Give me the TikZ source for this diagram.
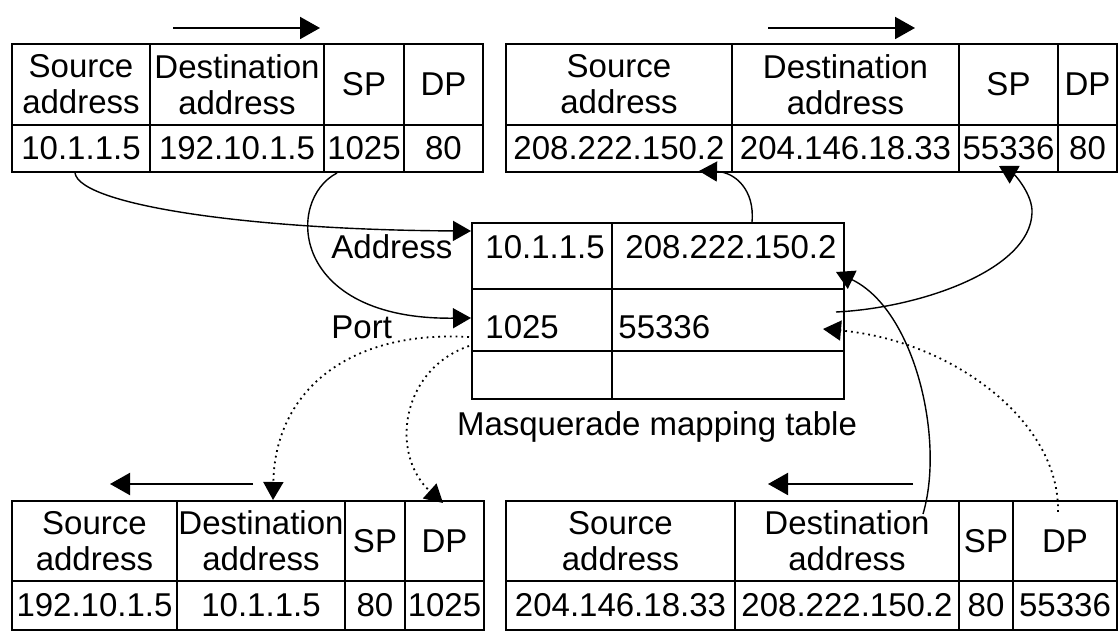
\documentclass[tikz,border=0pt]{standalone}
\usepackage{fontspec}
\setmainfont{Liberation Sans}
\usetikzlibrary{arrows.meta}

\begin{document}
\begin{tikzpicture}[x=0.5pt, y=-0.5pt,
    font=\fontsize{16.5}{18}\selectfont,
    celda/.style={draw, line width=1pt, inner sep=0pt, align=center},
    texto/.style={inner sep=0pt, anchor=west},
    flecha/.style={line width=1pt, -{Triangle[length=10pt, width=11pt]}},
    enlace/.style={line width=0.7pt, -{Triangle[length=9pt, width=10pt]}},
    punteado/.style={line width=0.9pt, dotted, -{Triangle[length=9pt, width=10pt]}}]
    \useasboundingbox (0,0) rectangle (1120,635);

    % Tabla superior izquierda
    \node[celda, minimum width=69pt, minimum height=40.5pt] (tl-sa) at (81,84.5) {Source\\address};
    \node[celda, minimum width=87pt, minimum height=40.5pt] (tl-da) at (237,84.5) {Destination\\address};
    \node[celda, minimum width=40pt, minimum height=40.5pt] (tl-sp) at (364,84.5) {SP};
    \node[celda, minimum width=39.5pt, minimum height=40.5pt] (tl-dp) at (443.5,84.5) {DP};
    \node[celda, minimum width=69pt, minimum height=23.5pt] (tl-sv) at (81,148.5) {10.1.1.5};
    \node[celda, minimum width=87pt, minimum height=23.5pt] (tl-dv) at (237,148.5) {192.10.1.5};
    \node[celda, minimum width=40pt, minimum height=23.5pt] (tl-spv) at (364,148.5) {1025};
    \node[celda, minimum width=39.5pt, minimum height=23.5pt] (tl-dpv) at (443.5,148.5) {80};
    \draw[flecha] (173,28) -- (320,28);

    % Tabla superior derecha
    \node[celda, minimum width=113pt, minimum height=40.5pt] (tr-sa) at (619,84.5) {Source\\address};
    \node[celda, minimum width=113.5pt, minimum height=40.5pt] (tr-da) at (845.5,84.5) {Destination\\address};
    \node[celda, minimum width=49.5pt, minimum height=40.5pt] (tr-sp) at (1008.5,84.5) {SP};
    \node[celda, minimum width=29.5pt, minimum height=40.5pt] (tr-dp) at (1087.5,84.5) {DP};
    \node[celda, minimum width=113pt, minimum height=23.5pt] (tr-sv) at (619,148.5) {208.222.150.2};
    \node[celda, minimum width=113.5pt, minimum height=23.5pt] (tr-dv) at (845.5,148.5) {204.146.18.33};
    \node[celda, minimum width=49.5pt, minimum height=23.5pt] (tr-spv) at (1008.5,148.5) {55336};
    \node[celda, minimum width=29.5pt, minimum height=23.5pt] (tr-dpv) at (1087.5,148.5) {80};
    \draw[flecha] (768,28) -- (915,28);

    % Tabla de mapeo
    \node[celda, minimum width=70pt, minimum height=33pt] (m11) at (542,256) {};
    \node[celda, minimum width=116pt, minimum height=33pt] (m12) at (728,256) {};
    \node[celda, minimum width=70pt, minimum height=31pt] (m21) at (542,320) {};
    \node[celda, minimum width=116pt, minimum height=31pt] (m22) at (728,320) {};
    \node[celda, minimum width=70pt, minimum height=24pt] (m31) at (542,375) {};
    \node[celda, minimum width=116pt, minimum height=24pt] (m32) at (728,375) {};
    \node[texto] (m-ipa) at (485,247) {10.1.1.5};
    \node[texto] (m-ipb) at (625,247) {208.222.150.2};
    \node[texto] (m-pta) at (485,327) {1025};
    \node[texto] (m-ptb) at (618,327) {55336};
    \node[texto] (addr) at (331,247) {Address};
    \node[texto] (port) at (331,327) {Port};
    \node[inner sep=0pt] (titulo) at (657,427) {Masquerade mapping table};

    % Tabla inferior izquierda
    \node[celda, minimum width=82.5pt, minimum height=40pt] (bl-sa) at (94.5,541) {Source\\address};
    \node[celda, minimum width=84pt, minimum height=40pt] (bl-da) at (261,541) {Destination\\address};
    \node[celda, minimum width=30pt, minimum height=40pt] (bl-sp) at (375,541) {SP};
    \node[celda, minimum width=39.5pt, minimum height=40pt] (bl-dp) at (444.5,541) {DP};
    \node[celda, minimum width=82.5pt, minimum height=24.5pt] (bl-sv) at (94.5,605.5) {192.10.1.5};
    \node[celda, minimum width=84pt, minimum height=24.5pt] (bl-dv) at (261,605.5) {10.1.1.5};
    \node[celda, minimum width=30pt, minimum height=24.5pt] (bl-spv) at (375,605.5) {80};
    \node[celda, minimum width=39.5pt, minimum height=24.5pt] (bl-dpv) at (444.5,605.5) {1025};
    \draw[flecha] (253,484) -- (110,484);

    % Tabla inferior derecha
    \node[celda, minimum width=114.5pt, minimum height=40pt] (br-sa) at (620.5,541) {Source\\address};
    \node[celda, minimum width=112pt, minimum height=40pt] (br-da) at (847,541) {Destination\\address};
    \node[celda, minimum width=27pt, minimum height=40pt] (br-sp) at (986,541) {SP};
    \node[celda, minimum width=52pt, minimum height=40pt] (br-dp) at (1065,541) {DP};
    \node[celda, minimum width=114.5pt, minimum height=24.5pt] (br-sv) at (620.5,605.5) {204.146.18.33};
    \node[celda, minimum width=112pt, minimum height=24.5pt] (br-dv) at (847,605.5) {208.222.150.2};
    \node[celda, minimum width=27pt, minimum height=24.5pt] (br-spv) at (986,605.5) {80};
    \node[celda, minimum width=52pt, minimum height=24.5pt] (br-dpv) at (1065,605.5) {55336};
    \draw[flecha] (913,484) -- (768,484);

    % Enlaces de salida
    \draw[enlace] ([xshift=-3pt]tl-sv.south) .. controls (80,205) and (250,230) .. ([yshift=12.5pt]m11.west);
    \draw[enlace] ([xshift=-13.5pt]tl-spv.south) .. controls (285,200) and (290,320) .. ([yshift=1pt]m21.west);
    \draw[enlace] ([xshift=12pt]m12.north) .. controls (755,190) and (735,172) .. ([xshift=-17pt, yshift=1pt]tr-sv.south east);
    \draw[enlace] ([xshift=-4.5pt, yshift=4pt]m22.east) .. controls (920,308) and (1030,270) .. (1032,213)
        .. controls (1033,195) and (1015,175) .. ([xshift=-4.75pt, yshift=3.5pt]tr-spv.south);

    % Enlaces de vuelta
    \draw[enlace] ([xshift=38pt, yshift=-7pt]br-da.north) .. controls (945,440) and (915,310) .. ([xshift=-4.5pt, yshift=-8pt]m12.east);
    \draw[punteado] ([xshift=-3.5pt, yshift=-6pt]br-dp.north) .. controls (1060,420) and (950,340) .. ([xshift=-11pt, yshift=-4.5pt]m22.east);
    \draw[punteado] ([xshift=-1pt, yshift=-8.5pt]m21.west) .. controls (350,330) and (275,390) .. ([xshift=6pt]bl-da.north);
    \draw[punteado] ([xshift=-1pt, yshift=-13pt]m21.west) .. controls (400,370) and (390,455) .. ([xshift=-0.75pt, yshift=-1.5pt]bl-dp.north);
\end{tikzpicture}
\end{document}
